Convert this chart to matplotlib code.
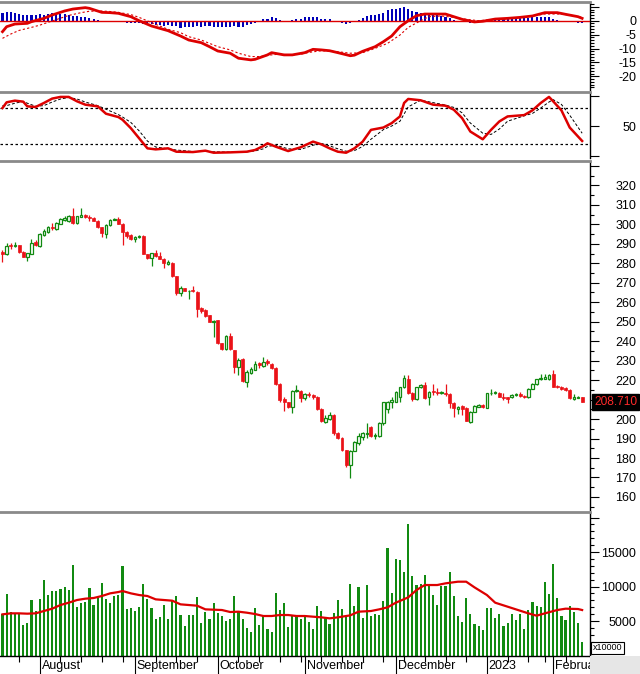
import matplotlib
matplotlib.use("Agg")
import matplotlib.pyplot as plt
import numpy as np
from matplotlib.patches import Rectangle
from matplotlib.ticker import FixedLocator, MultipleLocator
import matplotlib.transforms as mtransforms

# ---------------- data (bar index 0 = 19 Jul 2022 ... 140 = Feb 2023) ----------------
open_ = [285.6,284.6,289.5,288.9,289.3,285.9,283.0,284.9,290.7,288.9,
         294.5,296.2,298.7,297.6,300.3,302.2,301.7,304.4,300.5,303.9,
         305.0,304.0,303.4,301.8,298.6,295.2,299.6,302.1,302.5,300.1,
         296.2,294.5,292.3,293.3,294.0,284.7,282.8,285.1,283.7,282.2,
         279.8,280.3,273.4,264.6,267.1,265.5,266.2,265.4,256.8,256.0,
         253.4,249.8,250.85,238.9,235.8,242.6,235.4,226.5,230.7,219.2,
         223.8,225.2,228.6,227.2,230.0,228.3,226.4,218.0,210.1,208.9,
         206.4,214.3,214.6,210.6,212.9,212.3,211.5,205.2,198.7,199.9,
         202.1,193.0,190.4,184.1,176.4,183.8,187.9,190.9,192.4,195.8,
         191.5,191.3,197.8,205.0,208.6,208.9,211.2,216.3,220.4,213.5,
         210.1,216.3,217.5,211.5,214.6,214.1,213.2,213.5,212.9,208.4,
         205.0,206.9,205.5,198.7,203.8,206.4,207.2,205.9,213.2,213.2,
         213.5,211.5,211.2,211.2,212.2,212.7,212.0,211.2,215.6,218.0,
         220.4,220.7,220.4,223.1,217.0,216.6,215.8,214.9,210.1,211.0,
         211.2]
high_ = [286.8,290.2,290.5,291.0,289.5,286.5,285.5,292.3,292.0,295.3,
         297.5,299.0,300.5,301.0,303.3,304.5,305.0,308.5,304.5,308.3,
         305.5,305.0,303.5,302.0,298.8,300.0,302.5,303.4,303.9,300.5,
         296.5,295.0,294.0,294.5,294.3,285.0,285.5,286.8,285.6,282.5,
         281.5,280.5,273.5,268.3,267.5,266.5,268.3,265.5,257.7,256.3,
         253.6,251.0,251.0,239.2,243.0,244.0,235.6,231.2,231.2,225.0,
         226.5,230.0,229.5,232.0,230.7,229.0,226.7,218.3,211.2,209.0,
         215.0,217.5,215.0,213.5,214.0,212.9,212.0,205.5,202.1,203.8,
         202.5,193.5,190.6,184.3,184.1,188.7,192.7,193.5,198.1,196.3,
         192.7,198.5,209.0,209.5,211.5,214.5,216.6,222.6,222.6,213.7,
         216.6,218.0,219.2,214.5,218.0,215.8,214.6,218.0,213.2,208.6,
         206.9,207.2,206.0,204.0,207.0,207.5,207.5,213.5,215.4,214.5,
         214.0,213.2,211.5,212.9,213.5,214.1,212.2,215.8,218.3,220.7,
         223.1,223.1,222.9,225.2,217.5,217.0,216.3,215.2,212.9,211.8,
         211.5]
low_ = [280.8,284.0,287.5,288.5,285.5,283.0,281.3,284.5,289.0,288.3,
        294.0,295.5,297.0,297.0,300.0,301.5,301.0,300.0,300.0,303.5,
        303.0,301.8,301.5,298.0,293.6,293.1,299.0,302.0,300.0,289.3,
        293.0,292.0,291.0,292.8,284.5,282.0,278.7,283.0,282.0,277.4,
        279.0,273.0,263.5,263.0,265.5,261.7,265.0,252.6,254.6,252.2,
        249.7,242.3,238.5,235.5,235.5,235.5,223.8,222.6,219.0,216.6,
        223.0,225.0,226.0,226.5,227.8,225.5,217.5,209.0,204.3,205.5,
        203.0,214.0,209.0,210.0,211.5,210.5,204.5,198.5,197.8,199.5,
        192.0,190.0,183.5,175.5,169.6,183.5,186.7,189.0,190.1,191.0,
        189.6,191.0,197.0,203.3,205.5,208.5,208.9,216.0,213.0,209.5,
        209.8,216.0,210.5,207.2,212.4,212.4,212.9,211.8,205.5,201.2,
        202.6,202.1,198.8,197.8,203.5,206.0,205.8,205.5,212.4,212.9,
        211.2,209.8,208.1,210.6,211.8,211.5,210.8,211.0,215.3,217.7,
        220.2,220.4,220.0,216.3,215.8,215.0,214.6,210.4,209.8,210.8,
        208.5]
close_ = [285.0,289.0,288.9,289.3,285.9,283.4,285.1,290.2,289.6,294.8,
          296.5,298.4,297.9,300.5,302.5,303.4,304.4,300.8,304.1,304.7,
          304.0,303.4,301.8,298.6,295.5,299.6,302.0,302.6,300.1,296.2,
          294.1,292.6,293.5,294.0,284.7,282.8,285.1,283.7,282.4,280.3,
          280.6,273.4,264.6,267.1,265.9,266.0,265.5,256.3,255.6,252.9,
          250.0,250.6,238.9,236.1,242.6,235.8,226.9,230.3,219.7,224.3,
          225.5,228.3,227.6,229.5,228.6,226.0,218.0,209.8,208.9,206.4,
          214.6,214.9,210.6,212.9,212.2,211.2,205.0,199.2,200.7,202.1,
          192.7,190.4,184.1,176.4,183.8,188.4,191.3,192.7,192.7,191.5,
          192.0,197.8,208.6,209.0,209.6,214.1,216.3,220.9,213.5,210.1,
          216.3,217.5,211.0,214.1,213.7,213.2,213.7,212.9,208.4,205.5,
          206.4,205.0,199.0,203.8,206.7,207.0,206.0,213.2,213.5,213.7,
          211.5,210.6,210.1,212.4,213.0,212.0,211.2,215.6,218.0,220.4,
          220.9,221.4,222.6,216.6,216.3,215.6,214.9,210.6,211.2,211.5,
          208.71]
volume = [5965,8911,6351,6110,5965,4419,4661,8042,6448,8139,
          10940,8766,9346,9346,9588,9878,9491,13113,7028,7607,
          7752,9781,7269,8284,10505,8139,7559,8573,8815,12969,
          6786,6883,6448,6979,10360,8139,6931,5289,5579,7269,
          5289,7897,8622,5820,4275,5868,5820,8428,4661,6255,
          5241,7559,6110,5724,4999,5241,8622,6496,5289,3937,
          3405,6835,4371,5724,3792,3357,9008,6593,7559,4082,
          5724,5627,5289,5531,4806,3840,7221,
          6448,5386,4516,6110,8042,6738,5724,10360,7124,9878,
          5434,10215,5724,5965,5868,7897,15577,9008,13983,13838,
          12099,19054,11520,10215,10312,11664,10070,8766,7317,10070,
          10070,12051,8622,5724,4806,8284,6013,4564,4275,3695,
          6835,6835,5434,5965,4275,4757,5965,5144,5965,3840,
          6593,7752,7173,7028,10650,8911,13258,8332,5724,5144,
          7124,6255,4661,1956]
vol_ma_idx = [0,2,4,6,8,10,12,14,16,18,20,22,24,26,28,29,31,33,35,37,39,41,43,45,47,
              49,51,53,55,57,59,61,63,65,67,69,71,73,75,77,79,81,84,86,89,91,93,95,98,
              100,102,105,107,110,112,114,117,119,122,124,127,129,131,134,136,139,140]
vol_ma_val = [5965,6110,6110,6062,6110,6448,6786,7317,7655,8042,8235,8332,8622,9008,9201,
              9346,9008,8766,8622,8139,8042,7945,7414,7317,7221,6690,6641,6593,6303,6351,
              6206,6013,5724,5724,5868,5868,5724,5724,5627,5531,5386,5531,5820,6351,6448,
              6690,6979,7655,8428,9491,10215,10215,10457,10698,10698,9878,8766,7655,7076,
              6690,6110,5772,6110,6593,6786,6738,6593]
macd_idx = [0,1,3,6,7,10,12,15,17,20,21,24,26,28,31,33,36,38,40,43,45,48,50,52,55,57,60,61,
            64,65,68,70,73,75,77,79,81,84,85,87,90,92,94,96,98,100,102,105,107,109,111,114,
            116,119,122,125,128,131,134,136,139,140]
macd_val = [-3.95,-2.15,-1.2,-0.95,-0.35,0.85,2.05,3.5,4.2,4.7,4.45,3.0,2.9,2.65,1.45,0.0,
            -1.9,-2.75,-3.6,-5.5,-6.95,-7.9,-9.35,-10.9,-11.7,-13.5,-14.1,-13.9,-12.3,-11.5,
            -12.3,-12.3,-11.5,-10.3,-10.5,-10.8,-11.5,-12.6,-12.4,-11.0,-9.35,-7.55,-5.5,
            -2.15,0.0,1.8,2.4,2.4,2.4,1.45,0.5,-0.45,-0.2,0.6,0.85,1.2,1.7,2.9,2.9,2.3,1.45,0.85]
signal_idx = [0,2,4,7,9,11,14,16,19,21,24,26,28,31,33,36,38,40,43,45,48,50,52,55,57,60,62,
              65,67,69,72,74,77,81,84,87,90,93,96,98,101,103,106,109,112,115,119,122,125,
              128,131,135,138,140]
signal_val = [-6.35,-4.8,-3.5,-2.4,-1.6,-0.6,0.9,1.9,2.9,3.4,3.5,3.3,3.0,2.2,1.2,-0.7,-1.9,
              -3.1,-4.3,-5.75,-6.95,-8.15,-9.35,-10.5,-11.7,-12.9,-12.9,-12.3,-12.0,-12.3,
              -12.1,-11.4,-10.8,-11.15,-11.7,-11.5,-9.95,-8.15,-5.15,-2.4,0.0,1.45,1.7,1.2,
              0.5,0.0,0.5,0.7,1.2,1.7,2.4,2.4,1.8,1.2]
macd_hist = [2.9,3.0,3.0,2.65,2.4,2.05,1.93,2.05,2.17,2.29,
             2.05,2.4,2.65,2.65,2.4,2.4,2.05,1.69,1.69,1.45,
             1.21,0.85,0.61,0.25,-0.23,-0.23,-0.23,-0.23,-0.23,-0.47,
             -0.71,-0.71,-0.95,-0.71,-1.19,-1.55,-1.19,-1.67,-1.67,-1.91,
             -1.67,-1.91,-1.91,-2.63,-2.15,-2.15,-2.15,-1.91,-2.15,-1.91,
             -1.91,-2.15,-2.39,-2.15,-2.15,-2.15,-1.91,-2.15,-2.15,-1.67,
             -1.19,-0.95,-0.23,0.49,0.73,1.21,0.97,0.25,0.0,-0.23,
             0.25,0.73,0.73,1.21,1.21,1.45,1.21,
             0.61,0.61,0.49,0.0,-0.47,-0.95,-1.19,-0.95,-0.47,0.25,
             0.97,1.69,1.93,2.05,2.4,2.89,3.85,4.09,4.09,4.45,
             5.05,4.09,3.61,3.25,2.89,2.65,2.65,2.41,2.05,1.69,
             1.21,0.85,0.25,0.0,-0.47,-0.47,-0.71,-0.47,-0.47,-0.35,
             0.0,0.49,0.85,0.85,0.85,0.85,0.85,0.85,0.85,0.85,
             0.85,1.21,1.21,1.45,1.21,1.21,0.49,0.25,0.0,0.0,
             0.0,-0.47,-0.71,-0.95]
stoch_idx = [0,1,3,5,6,8,10,12,14,16,18,20,23,25,28,29,31,33,35,37,40,42,46,49,51,55,59,61,
             63,64,66,69,72,75,77,79,81,83,85,87,89,92,94,96,97,98,101,104,107,109,111,113,
             116,118,120,122,126,128,130,132,133,135,137,140]
stoch_k = [80,89.5,92.3,90.6,82.8,81.7,88.4,95.7,98.5,98.5,91.2,85.6,82.8,70.5,64.9,60.4,
           46.4,29.6,12.8,11.1,12.8,7.2,6.6,8.9,5.5,6.1,7.2,10,16.7,21.2,15.6,8.3,14.5,24,
           19.5,12.8,7.2,5.5,12.8,24,43.6,47.5,54.8,66,88.4,95.1,92.9,85.6,83.9,77.2,63.2,
           40.8,27.9,43.6,57.6,66,68.2,76.1,88.4,98.5,91.2,76.1,47.5,25.1]
stoch_d = [84,84,88,91,88,83,84,90,95,97.5,95,90,84,78,69,65,56,42,25,15,12,10,7.5,8,7,6.5,
           7,8.5,12,16,18,12,11,18,21,17,12,8,9,16,28,44,50,58,70,82,93,89,85,81,72,55,38,
           36,45,58,67,71,80,90,94,86,68,38]
month_ticks = [9, 32, 52, 73, 95, 117, 133]
month_labels = ["August", "September", "October", "November", "December", "2023", "February"]
week_ticks = [4, 14, 19, 24, 29, 37, 42, 47, 57, 62, 67, 72, 77, 82, 87, 92, 97, 102, 107,
              112, 122, 127, 131, 136]
price_tick_labels = [160, 170, 180, 190, 200, 220, 230, 240, 250, 260, 270, 280, 290,
                     300, 310, 320]
last_price = "208.710"

# ---------------- style ----------------
plt.rcParams['font.family'] = ['Liberation Sans', 'DejaVu Sans']
plt.rcParams['axes.unicode_minus'] = False

GREEN = '#118a11'
RED = '#ea1218'
LRED = '#dd0000'
BLUE = '#0000b8'
W, H = 640, 674
AXR = 590

fig = plt.figure(figsize=(6.4, 6.74), dpi=100)
fig.patch.set_facecolor('white')


def rect(top, bot):
    return [0, 1 - bot / H, AXR / W, (bot - top) / H]


XL = (-0.6, 141.9)


def style(ax):
    ax.set_xlim(XL)
    ax.spines['left'].set_visible(False)
    ax.spines['bottom'].set_visible(False)
    ax.spines['top'].set_color('#8a8a8a')
    ax.spines['top'].set_linewidth(2.0)
    ax.spines['right'].set_color('black')
    ax.spines['right'].set_linewidth(1.0)
    ax.yaxis.tick_right()
    ax.tick_params(axis='x', which='both', bottom=False, top=False, labelbottom=False)
    ax.tick_params(axis='y', which='major', direction='out', length=6.5, width=0.8,
                   labelright=False, labelleft=False)
    ax.tick_params(axis='y', which='minor', direction='out', length=3, width=0.8)


def rlabels(ax, vals, texts):
    tr = mtransforms.blended_transform_factory(ax.transAxes, ax.transData)
    for v, t in zip(vals, texts):
        ax.text(636 / AXR, v, t, transform=tr, ha='right', va='center_baseline',
                fontsize=9, color='black', clip_on=False)


x_all = np.arange(len(close_))

# ---------------- MACD ----------------
ax1 = fig.add_axes(rect(2, 90))
style(ax1)
ax1.set_ylim(-24.93, 6.73)
ax1.bar(x_all, macd_hist, width=0.5, color=BLUE, zorder=2)
ax1.axhline(0, color=LRED, lw=1.0, zorder=3)
ax1.plot(signal_idx, signal_val, color=LRED, lw=0.8, ls=(0, (2, 2)), zorder=4)
ax1.plot(macd_idx, macd_val, color=LRED, lw=2.0, zorder=5)
ax1.yaxis.set_major_locator(FixedLocator([-25, -20, -15, -10, -5, 0, 5]))
ax1.yaxis.set_minor_locator(MultipleLocator(1))
rlabels(ax1, [0, -5, -10, -15, -20], ["0", "-5", "-10", "-15", "-20"])

# ---------------- Stochastic ----------------
ax2 = fig.add_axes(rect(92, 158))
style(ax2)
ax2.set_ylim(-3.3, 106.7)
ax2.axhline(80, color='black', lw=0.9, ls=(0, (2, 2)))
ax2.axhline(20, color='black', lw=0.9, ls=(0, (2, 2)))
ax2.plot(stoch_idx, stoch_d, color='black', lw=0.7, ls=(0, (3, 2)), zorder=3)
ax2.plot(stoch_idx, stoch_k, color=LRED, lw=1.8, zorder=4)
ax2.yaxis.set_major_locator(FixedLocator([0, 50, 100]))
rlabels(ax2, [50], ["50"])

# ---------------- Price ----------------
ax3 = fig.add_axes(rect(161, 510))
style(ax3)
ax3.set_ylim(153.3, 332.5)
o = np.array(open_); c = np.array(close_); hi = np.array(high_); lo = np.array(low_)
up = c >= o
body_lo = np.minimum(o, c)
body_h = np.maximum(np.abs(c - o), 0.3)
ax3.vlines(x_all[up], lo[up], hi[up], color=GREEN, lw=0.9, zorder=2)
ax3.vlines(x_all[~up], lo[~up], hi[~up], color=RED, lw=0.9, zorder=2)
ax3.bar(x_all[up], body_h[up], bottom=body_lo[up], width=0.62, facecolor='white',
        edgecolor=GREEN, linewidth=0.9, zorder=3)
ax3.bar(x_all[~up], body_h[~up], bottom=body_lo[~up], width=0.72, facecolor=RED,
        edgecolor=RED, linewidth=0.5, zorder=3)
ax3.yaxis.set_major_locator(MultipleLocator(10))
ax3.yaxis.set_minor_locator(MultipleLocator(5))
rlabels(ax3, price_tick_labels, [str(v) for v in price_tick_labels])
trp = mtransforms.blended_transform_factory(ax3.transAxes, ax3.transData)
ax3.text(594 / AXR, float(last_price), last_price, transform=trp, ha='left',
         va='center', fontsize=8.6, color='#ff2a2a', clip_on=False,
         bbox=dict(boxstyle='square,pad=0.15', facecolor='black', edgecolor='black'))

# ---------------- Volume ----------------
ax4 = fig.add_axes(rect(512, 655.5))
style(ax4)
ax4.spines['bottom'].set_visible(True)
ax4.spines['bottom'].set_color('black')
ax4.spines['bottom'].set_linewidth(1.0)
ax4.set_ylim(0, 20800)
ax4.bar(x_all, volume, width=0.52, color=GREEN, zorder=2)
ax4.plot(vol_ma_idx, vol_ma_val, color=LRED, lw=1.6, zorder=3)
ax4.yaxis.set_major_locator(FixedLocator([5000, 10000, 15000, 20000]))
ax4.yaxis.set_minor_locator(MultipleLocator(1000))
rlabels(ax4, [5000, 10000, 15000], ["5000", "10000", "15000"])
ax4.xaxis.set_major_locator(FixedLocator(month_ticks))
ax4.xaxis.set_minor_locator(FixedLocator(week_ticks))
ax4.tick_params(axis='x', which='major', bottom=True, direction='out', length=13.6,
                width=0.8, labelbottom=False)
ax4.tick_params(axis='x', which='minor', bottom=True, direction='out', length=4.2,
                width=0.8)

# date strip with clipped month names
ax5 = fig.add_axes([0, 0, AXR / W, 18.5 / H])
ax5.set_xlim(XL)
ax5.set_ylim(0, 1)
ax5.axis('off')
for t, lab in zip(month_ticks, month_labels):
    ax5.text(t + 0.45, 0.42, lab, ha='left', va='center', fontsize=9, clip_on=True)

fig.patches.append(Rectangle((AXR / W, 0), (W - AXR) / W, 18.5 / H,
                             transform=fig.transFigure, facecolor='#e6e6e6',
                             edgecolor='none', zorder=5))
fig.text(593 / W, 1 - 648 / H, "x10000", fontsize=6.5, ha='left', va='center',
         bbox=dict(boxstyle='square,pad=0.2', facecolor='white', edgecolor='black',
                   linewidth=0.8))

fig.savefig("out.png", dpi=100, facecolor='white')
